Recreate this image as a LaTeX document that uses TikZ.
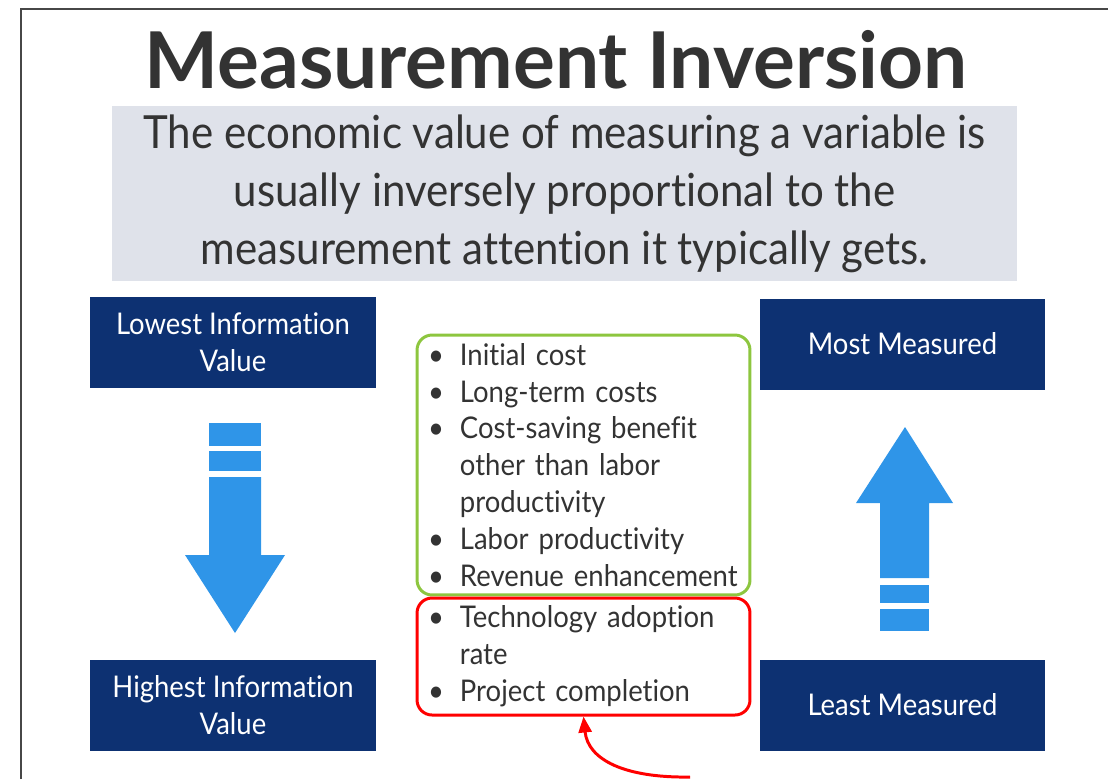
\documentclass[tikz,border=0pt]{standalone}
\usepackage{fontspec}
\setmainfont{Lato}[FakeStretch=0.92, Ligatures=NoCommon]
\newfontfamily\titlefont{Lato}[Ligatures=NoCommon]
\usepackage{tikz}
\usepackage{xcolor}
\usetikzlibrary{positioning, arrows.meta}
\hyphenpenalty=10000

\definecolor{navy}{HTML}{0D3172}
\definecolor{arrowblue}{HTML}{2F95E8}
\definecolor{panelgray}{HTML}{DFE2EA}
\definecolor{inkgray}{HTML}{333333}
\definecolor{limegreen}{HTML}{8DC63F}

\begin{document}
\begin{tikzpicture}[x=0.02cm, y=-0.02cm,
    navybox/.style={rectangle, fill=navy, text=white, align=center, minimum width=5.72cm, minimum height=1.82cm, inner sep=0pt, font=\fontsize{17}{21}\selectfont},
    listbox/.style={rectangle, rounded corners=0.3cm, line width=1.7pt, minimum width=6.66cm, inner xsep=0.22cm, text width=6.22cm, align=left, text=inkgray, font=\fontsize{17}{21}\selectfont},
    bigarrow/.style={fill=arrowblue}]
    \useasboundingbox (0,0) rectangle (1108,779);
    \draw[line width=1.1pt, draw=inkgray!90] (21,779) -- (21,9) -- (1108,9);

    \node[anchor=base, text=inkgray, font=\titlefont\fontsize{44.6}{50}\selectfont\bfseries] (title) at (556,88) {Measurement Inversion};
    \node[rectangle, fill=panelgray, minimum width=18.1cm, minimum height=3.5cm, align=center, text=inkgray, font=\fontsize{26}{33}\selectfont] (claim) at (564.5,193.5) {The economic value of measuring a variable is\\ usually inversely proportional to the\\ measurement attention it typically gets.};

    \node[navybox] (lowest) at (233,342.5) {Lowest Information\\ Value};
    \node[navybox] (highest) at (233,705) {Highest Information\\ Value};
    \node[navybox] (most) at (902.5,344) {Most Measured};
    \node[navybox] (least) at (902.5,705) {Least Measured};

    \node[listbox, draw=limegreen, minimum height=5.2cm] (measured) at (583.5,465) {%
        \textbullet\hspace{0.32cm}Initial cost\\
        \textbullet\hspace{0.32cm}Long-term costs\\
        \textbullet\hspace{0.32cm}Cost-saving benefit\\
        \hphantom{\textbullet}\hspace{0.32cm}other than labor\\
        \hphantom{\textbullet}\hspace{0.32cm}productivity\\
        \textbullet\hspace{0.32cm}Labor productivity\\
        \textbullet\hspace{0.32cm}Revenue enhancement};
    \node[listbox, draw=red, minimum height=2.34cm] (ignored) at (583.5,656.5) {%
        \textbullet\hspace{0.32cm}Technology adoption\\
        \hphantom{\textbullet}\hspace{0.32cm}rate\\
        \textbullet\hspace{0.32cm}Project completion};

    \fill[bigarrow] (209,423) rectangle (261,446);
    \fill[bigarrow] (209,451) rectangle (261,471);
    \fill[bigarrow] (209,477) -- (261,477) -- (261,555) -- (285,555) -- (235,633) -- (185,555) -- (209,555) -- cycle;

    \fill[bigarrow] (880,609) rectangle (929,631);
    \fill[bigarrow] (880,585) rectangle (929,603);
    \fill[bigarrow] (880,578) -- (929,578) -- (929,503) -- (953,503) -- (905,427) -- (856,503) -- (880,503) -- cycle;

    \coordinate (pointer) at (690,777);
    \draw[red, line width=1.7pt, -{Triangle[length=0.32cm, width=0.26cm]}] (pointer) .. controls (625,778) and (588,760) .. (ignored.south);
\end{tikzpicture}
\end{document}
